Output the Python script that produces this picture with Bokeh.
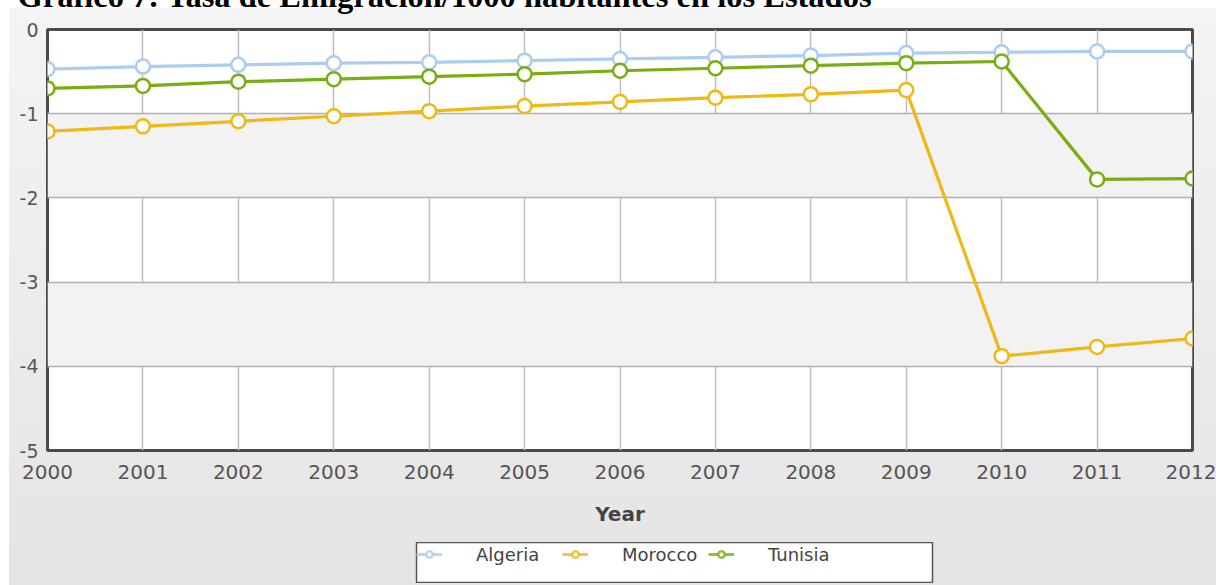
from bokeh.plotting import figure
from bokeh.layouts import column
from bokeh.models import FixedTicker, Legend, LegendItem
from bokeh.embed import file_html
from bokeh.resources import INLINE

# ---- data ----
years = [2000, 2001, 2002, 2003, 2004, 2005, 2006, 2007, 2008, 2009, 2010, 2011, 2012]
algeria = [-0.47, -0.44, -0.42, -0.40, -0.39, -0.37, -0.35, -0.33, -0.31, -0.28, -0.27, -0.26, -0.26]
morocco = [-1.21, -1.15, -1.09, -1.03, -0.97, -0.91, -0.86, -0.81, -0.77, -0.72, -3.88, -3.77, -3.67]
tunisia = [-0.70, -0.67, -0.62, -0.59, -0.56, -0.53, -0.49, -0.46, -0.43, -0.40, -0.38, -1.78, -1.77]
series_names = ["Algeria", "Morocco", "Tunisia"]
y_ticks = [-5, -4, -3, -2, -1, 0]
title_text = "Gráfico 7: Tasa de Emigración/1000 habitantes en los Estados"
x_label = "Year"

colors = ["#abcdef", "#f0b814", "#78ae12"]
FONT = "DejaVu Sans"

# ---------------- main chart ----------------
p = figure(frame_width=1145, frame_height=421, output_backend="svg",
           toolbar_location=None,
           x_range=(years[0], years[-1]), y_range=(y_ticks[0], y_ticks[-1]),
           min_border_left=38, min_border_right=24, min_border_top=61,
           min_border_bottom=90)
p.border_fill_color = None
p.background_fill_color = "white"
p.outline_line_color = "#4a4a4a"
p.outline_line_width = 3

# title (mostly above the visible page, as in the reference)
p.title.text = title_text
p.title.text_font = "Liberation Serif"
p.title.text_font_style = "bold"
p.title.text_font_size = "32.5px"
p.title.text_color = "black"
p.title.align = "left"
p.title.offset = -30
p.title.standoff = 31

# grids
p.xgrid.grid_line_color = "#bdbdbd"
p.xgrid.grid_line_width = 1.5
p.ygrid.grid_line_color = "#b0b0b0"
p.ygrid.grid_line_width = 1.5
p.ygrid.band_fill_color = "#f2f2f2"
p.ygrid.band_fill_alpha = 1.0

# axes
p.xaxis.ticker = FixedTicker(ticks=years)
p.yaxis.ticker = FixedTicker(ticks=y_ticks)
p.yaxis.major_label_overrides = {t: str(t) for t in y_ticks}
for ax in (p.xaxis[0], p.yaxis[0]):
    ax.axis_line_color = None
    ax.major_tick_line_color = None
    ax.minor_tick_line_color = None
    ax.major_label_text_font = FONT
    ax.major_label_text_color = "#555555"
p.xaxis.major_label_text_font_size = "20px"
p.yaxis.major_label_text_font_size = "19px"
p.xaxis.major_label_standoff = 8
p.yaxis.major_label_standoff = 3
p.xaxis.axis_label = x_label
p.xaxis.axis_label_text_font = FONT
p.xaxis.axis_label_text_font_size = "20px"
p.xaxis.axis_label_text_font_style = "bold"
p.xaxis.axis_label_text_color = "#444444"
p.xaxis.axis_label_standoff = 20

# ---------------- legend strip ----------------
# (its left/right borders get aligned with the main chart's: 38 + 24 px)
lf = figure(width=578, height=41, output_backend="svg", toolbar_location=None,
            x_range=(0, 1), y_range=(0, 1), x_axis_location=None,
            y_axis_location=None, min_border=0)
lf.grid.visible = False
lf.background_fill_color = "white"
lf.border_fill_color = None
lf.outline_line_color = "#555555"
lf.outline_line_width = 1.5

items = []
for name, vals, col in zip(series_names, [algeria, morocco, tunisia], colors):
    p.line(years, vals, line_color=col, line_width=3.2)
    p.scatter(years, vals, marker="circle", size=14, fill_color="white",
              line_color=col, line_width=2.5)
    # same series in the legend strip (outside its ranges, only the legend shows)
    lr = lf.line(years, vals, line_color=col, line_width=3, line_alpha=0.8)
    cr = lf.scatter(years, vals, marker="circle", size=10, fill_color="white",
                    line_color=col, line_width=2.5, line_alpha=0.8)
    items.append(LegendItem(label=name, renderers=[lr, cr]))

legend = Legend(items=items, location="top_left", orientation="horizontal",
                label_text_font=FONT, label_text_font_size="18px",
                label_text_color="#444444", glyph_width=26, glyph_height=16,
                label_standoff=34, label_width=76, label_height=24, spacing=10,
                padding=8, margin=0, border_line_color=None,
                background_fill_alpha=0.0)
lf.add_layout(legend)
lf.margin = (2, 0, 2, 369)

layout = column(p, lf)
layout.margin = (-40, 0, -40, 9)
layout.styles = {"background": "linear-gradient(to bottom, #ffffff 0px, #ffffff 48px, "
                               "#f4f4f4 48px, #e4e4e4 100%)"}

open("out.html", "w").write(file_html(layout, INLINE))
